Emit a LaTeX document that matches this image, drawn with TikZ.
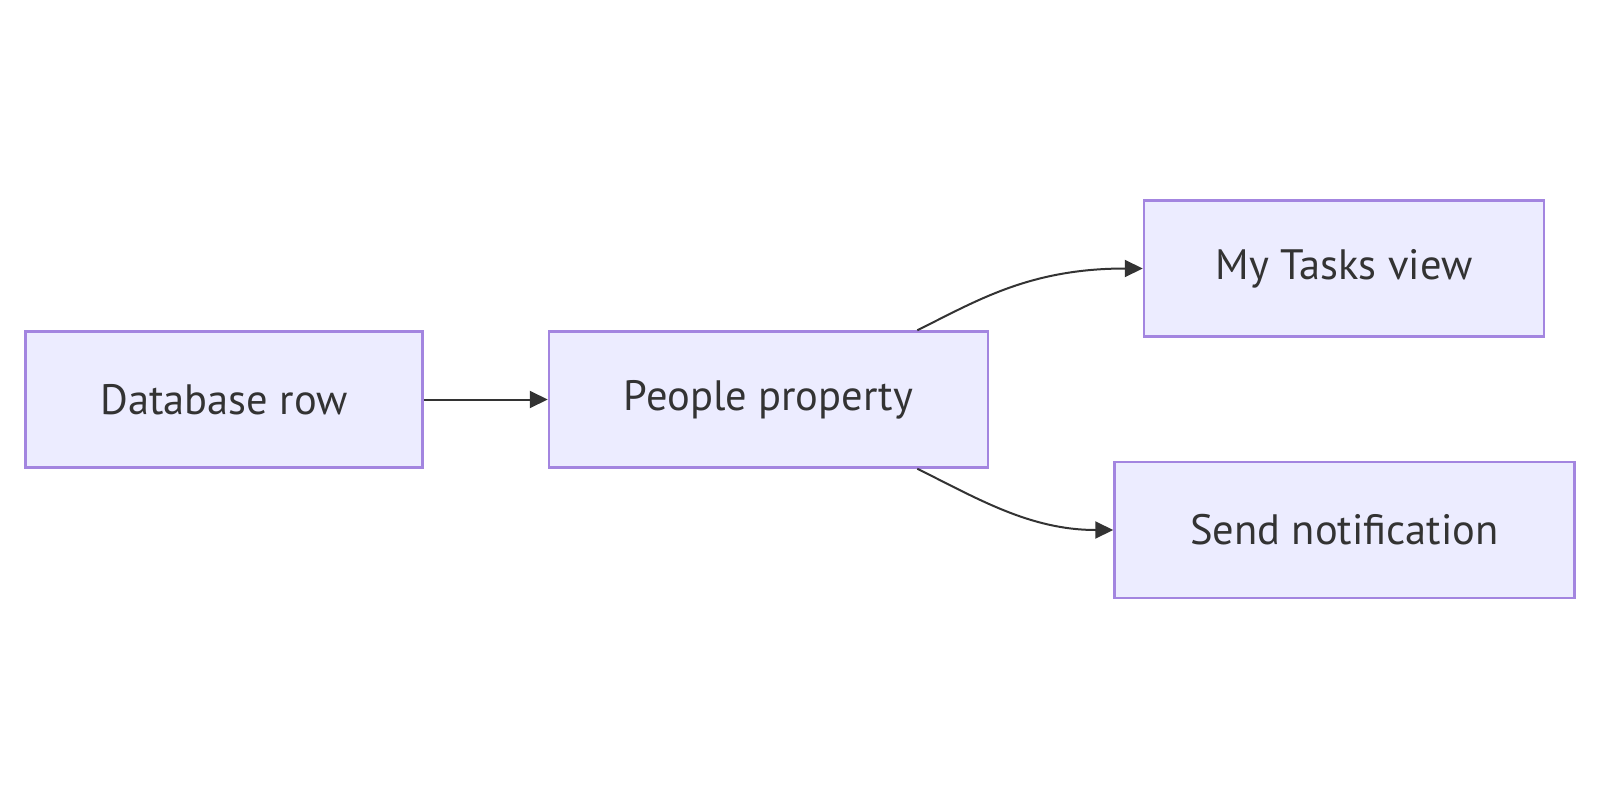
\documentclass[tikz,border=0pt]{standalone}
\usepackage{fontspec}
\setmainfont{PT Sans}
\usetikzlibrary{arrows.meta}
\definecolor{boxfill}{HTML}{ECECFF}
\definecolor{boxline}{HTML}{9370DB}
\definecolor{edge}{HTML}{333333}
\tikzset{
  box/.style={draw=boxline!85!white, fill=boxfill, line width=2.5pt, inner sep=0pt,
    minimum height=136pt, text=edge, font=\fontsize{42.5}{46}\selectfont},
  conn/.style={draw=edge, line width=2pt, -{Triangle[length=18pt,width=17pt]}}
}
\begin{document}
\begin{tikzpicture}[x=1pt,y=-1pt]
\useasboundingbox (0,0) rectangle (1600,800);
\node[box, minimum width=397pt] (db) at (224,399.5) {Database row};
\node[box, minimum width=439pt] (pp) at (768.5,399.5) {People property};
\node[box, minimum width=400pt] (mt) at (1344,268.5) {My Tasks view};
\node[box, minimum width=460pt] (sn) at (1344.5,530) {Send notification};
\draw[conn] (db.east) -- (pp.west);
\draw[conn] ([xshift=-72pt]pp.north east) .. controls +(59,-29) and +(-114,0) .. (mt.west);
\draw[conn] ([xshift=-72pt]pp.south east) .. controls +(59,29) and +(-84,0) .. (sn.west);
\end{tikzpicture}
\end{document}
